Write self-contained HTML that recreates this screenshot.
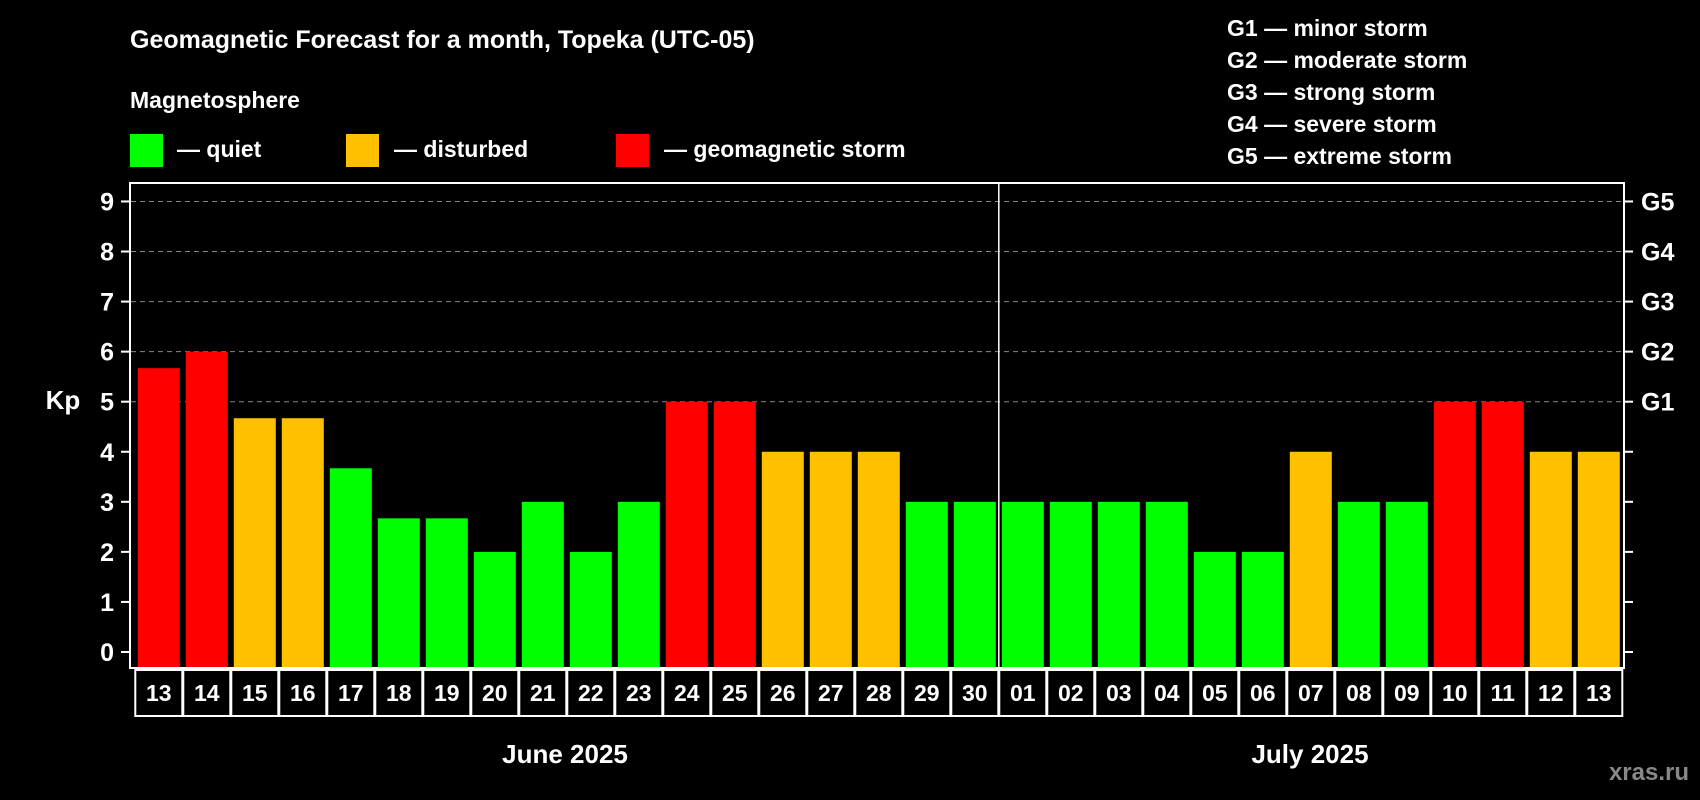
<!DOCTYPE html>
<html><head><meta charset="utf-8"><style>
body{margin:0;background:#000;width:1700px;height:800px;overflow:hidden}
svg{display:block;font-family:"Liberation Sans",Arial,sans-serif;font-weight:bold}
</style></head><body>
<svg id="c" width="1700" height="800">
<text x="130" y="48" fill="#fff" font-size="25">Geomagnetic Forecast for a month, Topeka (UTC-05)</text>
<text x="130" y="108" fill="#fff" font-size="23">Magnetosphere</text>
<g><rect x="130" y="134" width="33" height="33" fill="#00ff00"/><text x="177" y="157" fill="#fff" font-size="23">— quiet</text></g>
<g><rect x="346" y="134" width="33" height="33" fill="#ffc000"/><text x="394" y="157" fill="#fff" font-size="23">— disturbed</text></g>
<g><rect x="616" y="134" width="33" height="33" fill="#ff0000"/><text x="664" y="157" fill="#fff" font-size="23">— geomagnetic storm</text></g>
<g fill="#fff" font-size="23">
<text x="1227" y="36">G1 — minor storm</text>
<text x="1227" y="68">G2 — moderate storm</text>
<text x="1227" y="100">G3 — strong storm</text>
<text x="1227" y="132">G4 — severe storm</text>
<text x="1227" y="164">G5 — extreme storm</text>
</g>
<text x="63" y="409" fill="#fff" font-size="26" text-anchor="middle">Kp</text>
<text x="565" y="763" fill="#fff" font-size="26" text-anchor="middle">June 2025</text>
<text x="1310" y="763" fill="#fff" font-size="26" text-anchor="middle">July 2025</text>
<text x="1689" y="780" fill="#888" font-size="24" text-anchor="end">xras.ru</text>
</svg>
<script>
const days=["13","14","15","16","17","18","19","20","21","22","23","24","25","26","27","28","29","30","01","02","03","04","05","06","07","08","09","10","11","12","13"];
const kp=[5.67,6,4.67,4.67,3.67,2.67,2.67,2,3,2,3,5,5,4,4,4,3,3,3,3,3,3,2,2,4,3,3,5,5,4,4];
const yTicks=[0,1,2,3,4,5,6,7,8,9];
const gLabels=["","","","","","G1","G2","G3","G4","G5"];
const monthSplit=18;
const svg=document.getElementById('c');
const NS='http://www.w3.org/2000/svg';
const y0=652,yU=50.06,x0=134.8,slot=48,bw=42;
const y=v=>y0-v*yU;
const xs=i=>x0+i*slot;
function mk(t,a,p){const e=document.createElementNS(NS,t);for(const k in a)e.setAttribute(k,a[k]);(p||svg).appendChild(e);return e;}
// grid
yTicks.forEach((t,i)=>{
 if(t>=5){const g=mk('line',{x1:131,x2:1623,y1:y(t),y2:y(t),stroke:'#888','stroke-dasharray':'5,4','stroke-width':1});
 
 }
 const l=mk('line',{x1:121,x2:130,y1:y(t),y2:y(t),stroke:'#fff','stroke-width':2});
 
 
 const r=mk('line',{x1:1624,x2:1633,y1:y(t),y2:y(t),stroke:'#fff','stroke-width':2});
 
 
 const tx=mk('text',{x:114,y:y(t)+9,fill:'#fff','font-size':25,'text-anchor':'end'});tx.textContent=t;
 
 
 if(gLabels[i]){const g=mk('text',{x:1641,y:y(t)+9,fill:'#fff','font-size':25});g.textContent=gLabels[i];
 
 }
});
kp.forEach((v,i)=>{
 const c=v>=5?'#ff0000':v>=4?'#ffc000':'#00ff00';
 const b=mk('rect',{x:xs(i)+(slot-bw)/2,y:y(v),width:bw,height:y0+15-y(v),fill:c});
 
 
 const bx=mk('rect',{x:xs(i)+0.5,y:670,width:slot-1,height:46,fill:'none',stroke:'#fff','stroke-width':2});
 
 
 const t=mk('text',{x:xs(i)+slot/2,y:701,fill:'#fff','font-size':23,'text-anchor':'middle'});t.textContent=days[i];
 
 
});
const f=mk('rect',{x:130,y:183,width:1494,height:485,fill:'none',stroke:'#fff','stroke-width':2});


const d=mk('line',{x1:xs(monthSplit),x2:xs(monthSplit),y1:183,y2:668,stroke:'#fff','stroke-width':1.5});


</script>
</body></html>
